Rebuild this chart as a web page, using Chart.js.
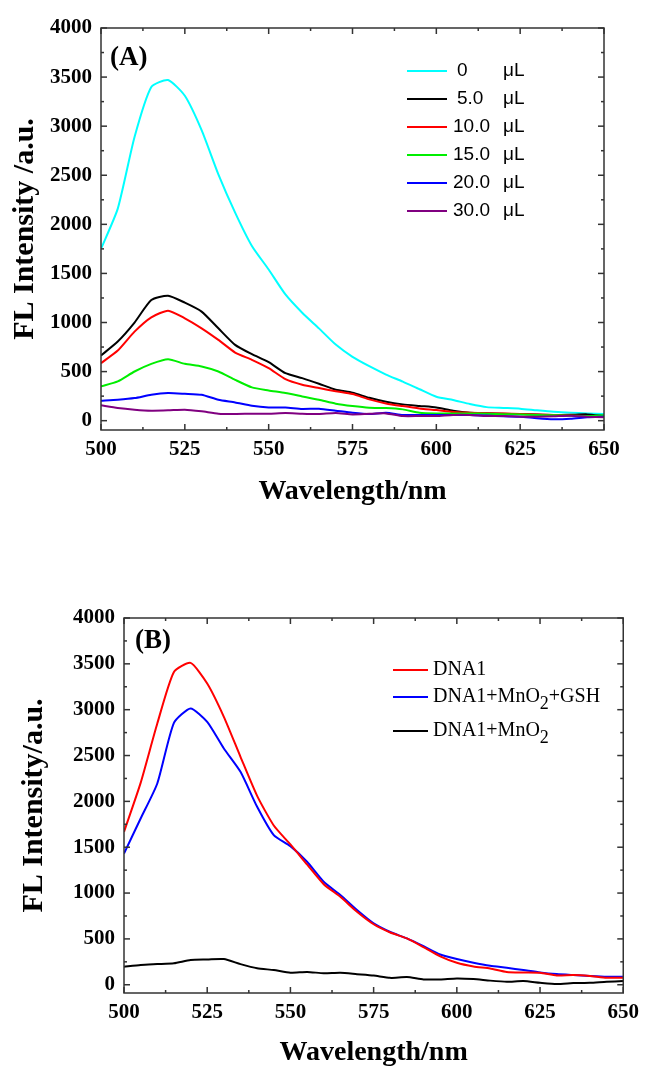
<!DOCTYPE html>
<html>
<head>
<meta charset="utf-8">
<script src="https://cdn.jsdelivr.net/npm/chart.js@4.4.0/dist/chart.umd.min.js"></script>
<style>
  body { margin: 0; background: #fff; }
  canvas { display: block; }
</style>
</head>
<body>
<canvas id="chartA" width="646" height="520"></canvas>
<canvas id="chartB" width="646" height="551"></canvas>
<script>
// wavelength grid (nm)
const wavelengths = [500, 505, 510, 515, 520, 525, 530, 535, 540, 545, 550, 555, 560, 565, 570, 575,
  580, 585, 590, 595, 600, 605, 610, 615, 620, 625, 630, 635, 640, 645, 650];

// panel A: MnO2 volume series
const doses = ['0', '5.0', '10.0', '15.0', '20.0', '30.0'];
const dose0 = [1750, 2160, 2890, 3400, 3470, 3310, 2960, 2510, 2120, 1780, 1540, 1286, 1100, 940, 775, 650,
  555, 470, 398, 320, 244, 210, 170, 138, 130, 122, 105, 90, 82, 74, 68];
const dose5 = [664, 806, 999, 1229, 1273, 1202, 1111, 941, 772, 677, 596, 484, 433, 376, 315, 285,
  233, 193, 166, 150, 135, 102, 81, 75, 70, 68, 62, 58, 60, 64, 47];
const dose10 = [586, 714, 907, 1053, 1121, 1043, 941, 823, 694, 620, 535, 423, 366, 332, 300, 271,
  217, 176, 149, 125, 108, 88, 81, 75, 72, 68, 62, 58, 52, 47, 41];
const dose15 = [349, 400, 501, 579, 626, 579, 552, 501, 416, 339, 308, 281, 247, 213, 173, 149,
  132, 129, 115, 81, 74, 74, 74, 70, 66, 64, 58, 54, 50, 47, 54];
const dose20 = [203, 213, 230, 264, 281, 274, 264, 213, 186, 152, 135, 135, 119, 122, 102, 81,
  68, 81, 58, 58, 58, 58, 58, 52, 45, 41, 25, 15, 20, 34, 41];
const dose30 = [156, 129, 112, 102, 105, 112, 95, 71, 68, 71, 71, 78, 71, 68, 78, 64,
  70, 74, 47, 47, 47, 58, 58, 47, 47, 41, 41, 45, 51, 40, 34];

// panel B: control experiments
const labelsB = ['DNA1', 'DNA1+MnO₂+GSH', 'DNA1+MnO₂'];
const dna1 = [1668, 2202, 2849, 3412, 3510, 3285, 2922, 2486, 2060, 1737, 1530, 1312, 1097, 959, 796, 660,
  570, 505, 410, 310, 240, 200, 178, 140, 134, 131, 100, 105, 95, 76, 76];
const dna1MnO2GSH = [1432, 1813, 2195, 2856, 3013, 2867, 2577, 2322, 1941, 1632, 1512, 1341, 1123, 978, 814, 669,
  575, 505, 420, 330, 280, 240, 207, 185, 160, 134, 116, 105, 95, 87, 87];
const dna1MnO2 = [196, 215, 225, 235, 270, 275, 280, 225, 180, 160, 130, 140, 125, 130, 115, 100,
  75, 85, 58, 58, 69, 62, 45, 33, 40, 22, 8, 18, 22, 33, 40];

// axis ticks
const xTickVals = [500, 525, 550, 575, 600, 625, 650];
const yTickVals = [0, 500, 1000, 1500, 2000, 2500, 3000, 3500, 4000];

const serif = "'Liberation Serif', 'Times New Roman', serif";
const pts = vals => vals.map((v, i) => ({ x: wavelengths[i], y: v }));

// box frame with inward ticks on all four sides
const framePlugin = {
  id: 'frame',
  afterDatasetsDraw(chart) {
    const { ctx, chartArea: a, scales: { x, y } } = chart;
    ctx.save();
    ctx.strokeStyle = '#333';
    ctx.lineWidth = 1.5;
    ctx.strokeRect(a.left, a.top, a.right - a.left, a.bottom - a.top);
    const tick = (px, py, dx, dy) => {
      ctx.beginPath(); ctx.moveTo(px, py); ctx.lineTo(px + dx, py + dy); ctx.stroke();
    };
    xTickVals.forEach((v, i) => {
      const px = x.getPixelForValue(v);
      tick(px, a.bottom, 0, -6); tick(px, a.top, 0, 6);
      if (i < xTickVals.length - 1) {
        const m = x.getPixelForValue((v + xTickVals[i + 1]) / 2);
        tick(m, a.bottom, 0, -3); tick(m, a.top, 0, 3);
      }
    });
    yTickVals.forEach((v, i) => {
      const py = y.getPixelForValue(v);
      tick(a.left, py, 6, 0); tick(a.right, py, -6, 0);
      if (i < yTickVals.length - 1) {
        const m = y.getPixelForValue((v + yTickVals[i + 1]) / 2);
        tick(a.left, m, 3, 0); tick(a.right, m, -3, 0);
      }
    });
    ctx.restore();
  }
};

// panel tag and in-plot legend
const panelPlugin = {
  id: 'panel',
  afterDraw(chart, args, o) {
    const { ctx } = chart;
    ctx.save();
    ctx.fillStyle = '#000';
    ctx.font = 'bold 27px ' + serif;
    ctx.textBaseline = 'alphabetic';
    ctx.fillText(o.tag, o.tagX, o.tagY);
    ctx.textBaseline = 'middle';
    chart.data.datasets.forEach((ds, i) => {
      const yy = o.rows[i];
      ctx.strokeStyle = ds.borderColor;
      ctx.lineWidth = 2;
      ctx.beginPath(); ctx.moveTo(o.x1, yy); ctx.lineTo(o.x2, yy); ctx.stroke();
      ctx.font = o.font;
      if (o.unit) {
        ctx.fillText(ds.label, o.textX + (ds.label.length < 4 ? 4 : 0), yy);
        ctx.fillText(o.unit, o.unitX, yy);
      } else {
        let xx = o.textX;
        ds.label.split('₂').forEach((part, k) => {
          if (k > 0) {
            ctx.font = o.subFont;
            ctx.fillText('2', xx, yy + 7);
            xx += ctx.measureText('2').width;
            ctx.font = o.font;
          }
          ctx.fillText(part, xx, yy);
          xx += ctx.measureText(part).width;
        });
      }
    });
    ctx.restore();
  }
};

function makeOptions(cfg) {
  return {
    responsive: false,
    animation: false,
    devicePixelRatio: 1,
    layout: { padding: { left: 0, top: cfg.top, right: cfg.right, bottom: 0 } },
    elements: { point: { radius: 0 }, line: { borderWidth: 2, tension: 0.2 } },
    scales: {
      x: {
        type: 'linear', min: 500, max: 650,
        afterBuildTicks: s => { s.ticks = xTickVals.map(v => ({ value: v })); },
        afterFit: s => { s.height = cfg.xHeight; },
        grid: { display: false, drawTicks: false },
        border: { display: false },
        ticks: { color: '#000', padding: 7, callback: v => String(v),
          font: { family: serif, size: 21, weight: 'bold' } },
        title: { display: true, text: 'Wavelength/nm', color: '#000',
          padding: { top: 0, bottom: cfg.xTitlePad }, font: { family: serif, size: 28, weight: 'bold' } }
      },
      y: {
        min: cfg.yMin, max: 4000,
        afterBuildTicks: s => { s.ticks = yTickVals.map(v => ({ value: v })); },
        afterFit: s => { s.width = cfg.yWidth; },
        grid: { display: false, drawTicks: false },
        border: { display: false },
        ticks: { color: '#000', padding: 9, callback: v => String(v),
          font: { family: serif, size: 21, weight: 'bold' } },
        title: { display: true, text: cfg.yTitle, color: '#000',
          padding: { top: cfg.yTitlePad, bottom: 0 }, font: { family: serif, size: 30, weight: 'bold' } }
      }
    },
    plugins: {
      legend: { display: false },
      tooltip: { enabled: false },
      panel: cfg.panel
    }
  };
}

const colorsA = ['#00ffff', '#000000', '#ff0000', '#00ee00', '#0000ff', '#800080'];
const seriesA = [dose0, dose5, dose10, dose15, dose20, dose30];

new Chart(document.getElementById('chartA'), {
  type: 'line',
  data: {
    datasets: seriesA.map((s, i) => ({
      label: doses[i], data: pts(s), borderColor: colorsA[i], order: seriesA.length - i
    }))
  },
  options: makeOptions({
    top: 28, right: 42, xHeight: 90, yWidth: 101, yMin: -95, xTitlePad: 11, yTitlePad: 7,
    yTitle: 'FL Intensity /a.u.',
    panel: { tag: '(A)', tagX: 110, tagY: 65, x1: 407, x2: 447, textX: 453, unit: 'μL', unitX: 503,
      rows: [71, 99, 127, 155, 183, 211], font: '19px "Liberation Sans", Arial, sans-serif' }
  }),
  plugins: [framePlugin, panelPlugin]
});

const colorsB = ['#ff0000', '#0000ff', '#000000'];
const seriesB = [dna1, dna1MnO2GSH, dna1MnO2];

new Chart(document.getElementById('chartB'), {
  type: 'line',
  data: {
    datasets: seriesB.map((s, i) => ({ label: labelsB[i], data: pts(s), borderColor: colorsB[i] }))
  },
  options: makeOptions({
    top: 98, right: 19, xHeight: 78, yWidth: 124, yMin: -90, xTitlePad: 1, yTitlePad: 16,
    yTitle: 'FL Intensity/a.u.',
    panel: { tag: '(B)', tagX: 135, tagY: 128, x1: 393, x2: 428, textX: 433,
      rows: [150, 177, 211], font: '20px ' + serif, subFont: '18px ' + serif }
  }),
  plugins: [framePlugin, panelPlugin]
});
</script>
</body>
</html>
